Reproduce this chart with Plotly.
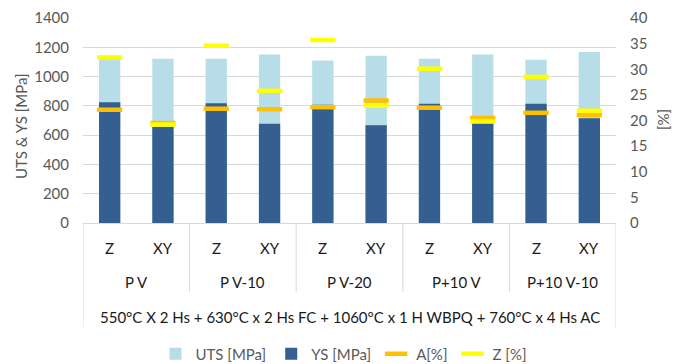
import plotly.graph_objects as go

groups = ["P V", "P V-10", "P V-20", "P+10 V", "P+10 V-10"]
orients = ["Z", "XY"]
uts = [1143, 1122, 1122, 1150, 1109, 1143, 1122, 1150, 1115, 1168]
ys = [824, 658, 817, 678, 808, 667, 815, 685, 815, 715]
a_pct = [22.1, 19.5, 22.3, 22.2, 22.6, 23.9, 22.5, 20.5, 21.5, 21.1]
z_pct = [32.3, 19.2, 34.6, 25.8, 35.7, 22.9, 30.1, 19.8, 28.5, 21.9]
treatment = "550°C X 2 Hs + 630°C x 2 Hs FC + 1060°C x 1 H WBPQ + 760°C x 4 Hs AC"
y_title = "UTS & YS [MPa]"
y2_title = "[%]"

cats = [f"{g}|{o}" for g in groups for o in orients]
labels = [o for g in groups for o in orients]

FONT = "Lato"
FS = 15
TXT = "#595959"
GRID = "#D9D9D9"
L, R, T, B, W, H = 83, 69, 18, 141, 685, 364
pw, ph = W - L - R, H - T - B

fig = go.Figure()
fig.add_trace(go.Bar(x=cats, y=uts, name="UTS [MPa]", marker=dict(color="#B7DEE8", line=dict(width=0)), width=0.4))
fig.add_trace(go.Bar(x=cats, y=ys, name="YS [MPa]", marker=dict(color="#365F91", line=dict(width=0)), width=0.4))
fig.add_trace(go.Scatter(x=cats, y=a_pct, name="A[%]", mode="markers", yaxis="y2",
                         marker=dict(symbol="line-ew", size=18, line=dict(width=4.5, color="#FFC000"), color="#FFC000")))
fig.add_trace(go.Scatter(x=cats, y=z_pct, name="Z [%]", mode="markers", yaxis="y2",
                         marker=dict(symbol="line-ew", size=18, line=dict(width=4.5, color="#FFFF00"), color="#FFFF00")))

annotations = []
for c, l in zip(cats, labels):
    annotations.append(dict(x=c, y=0, xref="x", yref="paper", text=l, showarrow=False,
                            yanchor="middle", yshift=-24.5, font=dict(family=FONT, size=FS, color="#1a1a1a")))
for i, g in enumerate(groups):
    annotations.append(dict(x=2 * i + 0.5, y=0, xref="x", yref="paper", text=g, showarrow=False,
                            yanchor="middle", yshift=-58.5, font=dict(family=FONT, size=FS, color="#1a1a1a")))
annotations.append(dict(x=4.5, y=0, xref="x", yref="paper", text=treatment, showarrow=False,
                        yanchor="middle", yshift=-93.5, font=dict(family=FONT, size=FS, color="#1a1a1a")))
# axis titles (pixel positions converted to paper coordinates)
annotations.append(dict(x=(21 - L) / pw, y=(H - B - 126) / ph, xref="paper", yref="paper", text=y_title,
                        showarrow=False, textangle=-90, xanchor="center", yanchor="middle",
                        font=dict(family=FONT, size=FS, color=TXT)))
annotations.append(dict(x=(663 - L) / pw, y=(H - B - 120) / ph, xref="paper", yref="paper", text=y2_title,
                        showarrow=False, textangle=-90, xanchor="center", yanchor="middle",
                        font=dict(family=FONT, size=FS, color=TXT)))

shapes = []
for i in range(len(groups) + 1):
    xpos = 2 * i - 0.5
    outer = i == 0 or i == len(groups)
    shapes.append(dict(type="line", xref="x", yref="paper", ysizemode="pixel", yanchor=0,
                       x0=xpos, x1=xpos, y0=0, y1=-104 if outer else -69,
                       line=dict(color=GRID, width=1)))

fig.update_layout(
    width=W, height=H,
    margin=dict(l=L, r=R, t=T, b=B, autoexpand=False),
    plot_bgcolor="white", paper_bgcolor="white",
    barmode="overlay",
    font=dict(family=FONT, size=FS, color=TXT),
    xaxis=dict(type="category", range=[-0.5, 9.5], showticklabels=False, showgrid=False,
               showline=True, linecolor=GRID, linewidth=1, ticks="", automargin=False),
    yaxis=dict(range=[0, 1400], dtick=200, showgrid=True, gridcolor=GRID, gridwidth=1,
               zeroline=False, ticks="outside", ticklen=10, tickcolor="rgba(0,0,0,0)",
               tickfont=dict(family=FONT, size=FS, color=TXT), automargin=False),
    yaxis2=dict(range=[0, 40], dtick=5, overlaying="y", side="right", showgrid=False, zeroline=False,
                ticks="outside", ticklen=10, tickcolor="rgba(0,0,0,0)",
                tickfont=dict(family=FONT, size=FS, color=TXT), automargin=False),
    legend=dict(orientation="h", x=(344 - L) / pw, xanchor="center", y=(H - B - 354) / ph, yanchor="middle",
                font=dict(family=FONT, size=FS, color=TXT), itemwidth=30, bgcolor="rgba(0,0,0,0)"),
    annotations=annotations,
    shapes=shapes,
    showlegend=True,
)

fig.write_html("out.html", config={"displayModeBar": False},
               post_script="document.body.style.margin='0px';document.body.style.overflow='hidden';")
